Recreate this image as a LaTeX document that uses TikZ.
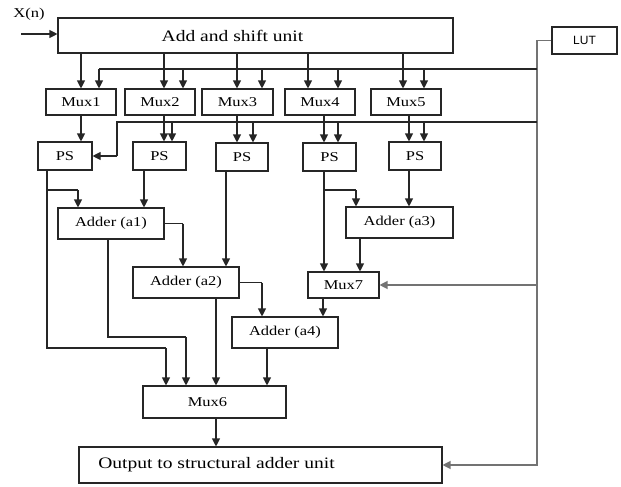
\documentclass[tikz,border=0pt]{standalone}
\usepackage{fontspec}
\setmainfont[FakeStretch=1.22]{Liberation Serif}
\newfontfamily\lutfont{Liberation Sans}
\usetikzlibrary{arrows.meta}

\tikzset{
  box/.style={draw=black!85, line width=1.1pt, inner sep=0pt, text=black},
  wire/.style={draw=black!85, line width=1.1pt},
  arr/.style={wire, -{Triangle[length=8pt,width=8pt]}},
  lutwire/.style={draw=black!55, line width=1.2pt},
  lutarr/.style={lutwire, -{Triangle[length=8pt,width=8pt]}},
  mid/.style={font=\fontsize{13.5}{15}\selectfont},
  big/.style={font=\fontsize{16}{18}\selectfont}
}

% place a box by its corners (x1,y1) (x2,y2)
\newcommand{\blk}[7][]{%
  \node[box,#1,minimum width={(#5-#3)*1pt},minimum height={(#6-#4)*1pt}]
    (#2) at ({(#3+#5)/2},{(#4+#6)/2}) {#7};}

\begin{document}
\begin{tikzpicture}[x=1pt,y=-1pt]
\useasboundingbox (0,0) rectangle (621,487);

% ---- blocks ----
\blk[big]{as}{58}{18}{453}{53}{Add and shift unit\hspace*{46pt}}
\blk[font=\lutfont\fontsize{12}{14}\selectfont]{lut}{552}{27}{617}{54}{LUT}
\blk[mid]{mux1}{46}{89}{116}{115}{Mux1}
\blk[mid]{mux2}{125}{89}{195}{115}{Mux2}
\blk[mid]{mux3}{202}{89}{273}{115}{Mux3}
\blk[mid]{mux4}{285}{89}{355}{115}{Mux4}
\blk[mid]{mux5}{371}{89}{441}{115}{Mux5}
\blk[mid]{ps1}{38}{142}{92}{170}{PS}
\blk[mid]{ps2}{133}{142}{186}{170}{PS}
\blk[mid]{ps3}{216}{143}{268}{171}{PS}
\blk[mid]{ps4}{303}{143}{356}{171}{PS}
\blk[mid]{ps5}{389}{142}{441}{170}{PS}
\blk[mid]{a1}{58}{208}{164}{239}{Adder (a1)}
\blk[mid]{a3}{346}{207}{453}{238}{Adder (a3)}
\blk[mid]{a2}{133}{267}{239}{298}{Adder (a2)}
\blk[mid]{mux7}{308}{272}{379}{298}{Mux7}
\blk[mid]{a4}{232}{317}{338}{348}{Adder (a4)}
\blk[mid]{mux6}{143}{386}{286}{418}{Mux6\hspace*{14pt}}
\blk[big]{out}{79}{447}{442}{483}{Output to structural adder unit\hspace*{88pt}}

\node[mid, text=black] (xn) at (29,14) {X(n)};

% ---- routing columns and rows ----
\coordinate (xin) at (21,34);
\coordinate (busx) at (537,0);
\coordinate (rowA) at (0,69);
\coordinate (rowB) at (0,122);
\coordinate (rowC) at (0,190);
\coordinate (rowD) at (0,348);
\coordinate (rowE) at (0,337);

% input
\draw[arr] (xin) -- (xin -| as.west);

% LUT bus
\draw[lutwire] (lut.west) -- (lut.west -| busx);
\draw[lutarr] (lut.west -| busx) -- (out.east -| busx) -- (out.east);
\draw[lutarr] (mux7.east -| busx) -- (mux7.east);
\draw[wire] (rowA -| busx) -- (rowA -| 99,0);
\draw[wire] (rowB -| busx) -- (rowB -| 117,0) -- (ps1.east -| 117,0);
\draw[arr] (ps1.east -| 117,0) -- (ps1.east);

% add-and-shift unit to multiplexers, LUT bus to multiplexers
\foreach \m/\xa/\xb in {mux1/81/99, mux2/164/183, mux3/237/262, mux4/308/338, mux5/403/424}{
  \draw[arr] (as.south -| \xa,0) -- (\m.north -| \xa,0);
  \draw[arr] (rowA -| \xb,0) -- (\m.north -| \xb,0);
}

% multiplexers to PS units, LUT bus to PS units
\foreach \m/\p/\xa in {mux1/ps1/81, mux2/ps2/164, mux3/ps3/237, mux4/ps4/324, mux5/ps5/409}{
  \draw[arr] (\m.south -| \xa,0) -- (\p.north -| \xa,0);
}
\foreach \p/\xb in {ps2/172, ps3/253, ps4/338, ps5/424}{
  \draw[arr] (rowB -| \xb,0) -- (\p.north -| \xb,0);
}

% PS1
\draw[wire] (ps1.south -| 47,0) -- (rowD -| 47,0) -- (rowD -| 166,0);
\draw[arr] (rowD -| 166,0) -- (mux6.north -| 166,0);
\draw[wire] (rowC -| 47,0) -- (rowC -| 78,0);
\draw[arr] (rowC -| 78,0) -- (a1.north -| 78,0);
% PS2
\draw[arr] (ps2.south -| 144,0) -- (a1.north -| 144,0);
% PS3
\draw[arr] (ps3.south -| 226,0) -- (a2.north -| 226,0);
% PS4
\draw[arr] (ps4.south -| 324,0) -- (mux7.north -| 324,0);
\draw[wire] (rowC -| 324,0) -- (rowC -| 356,0);
\draw[arr] (rowC -| 356,0) -- (a3.north -| 356,0);
% PS5
\draw[arr] (ps5.south -| 409,0) -- (a3.north -| 409,0);

% adder (a1)
\draw[wire] (a1.east) -- (a1.east -| 183,0);
\draw[arr] (a1.east -| 183,0) -- (a2.north -| 183,0);
\draw[wire] (a1.south -| 108,0) -- (rowE -| 108,0) -- (rowE -| 186,0);
\draw[arr] (rowE -| 186,0) -- (mux6.north -| 186,0);
% adder (a2)
\draw[wire] (a2.east) -- (a2.east -| 262,0);
\draw[arr] (a2.east -| 262,0) -- (a4.north -| 262,0);
\draw[arr] (a2.south -| 216,0) -- (mux6.north -| 216,0);
% adder (a3)
\draw[arr] (a3.south -| 360,0) -- (mux7.north -| 360,0);
% Mux7
\draw[arr] (mux7.south -| 323,0) -- (a4.north -| 323,0);
% adder (a4)
\draw[arr] (a4.south -| 267,0) -- (mux6.north -| 267,0);
% Mux6
\draw[arr] (mux6.south -| 216,0) -- (out.north -| 216,0);

\end{tikzpicture}
\end{document}
